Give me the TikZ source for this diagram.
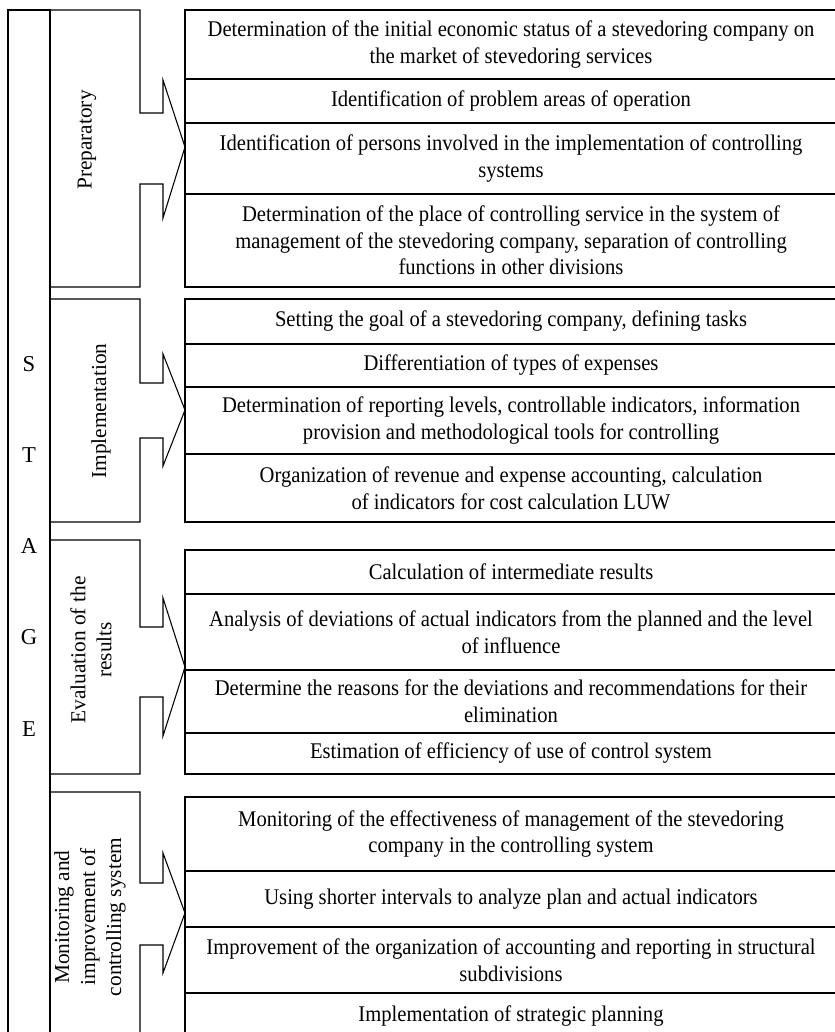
\documentclass[tikz,border=0pt]{standalone}
\usepackage{fontspec}
\setmainfont{Liberation Serif}
\newfontfamily\itemfont{Liberation Serif}[FakeStretch=0.92]
\usepackage{tikz}

\begin{document}
\begin{tikzpicture}[
    x=0.75pt, y=-0.75pt,
    line width=0.8pt,
    every node/.style={font=\fontsize{16}{19.5}\selectfont, inner sep=0pt},
    itembox/.style={draw, align=center, minimum width=652*0.75pt, minimum height=#1*0.75pt,
      font=\itemfont\fontsize{16.8}{20}\selectfont},
    stagelabel/.style={rotate=90, align=center},
    letter/.style={font=\fontsize{17}{20}\selectfont}
  ]
    \clip (0,0) rectangle (835,1032);
    % STAGE column
    \draw (8,1045) -- (8,10) -- (50,10) -- (50,1045);
    \node[letter] (s) at (29,364) {S};
    \node[letter] (t) at (29,455) {T};
    \node[letter] (a) at (29,546) {A};
    \node[letter] (g) at (29,637) {G};
    \node[letter] (e) at (29,729) {E};

    % Preparatory
    \draw (50,10) -- (140,10) -- (140,113) -- (163,113) -- (163,80) -- (185,147)
      -- (163,218) -- (163,184) -- (140,184) -- (140,287) -- (50,287) -- cycle;
    \node[stagelabel] (prep) at (87,140) {Preparatory};
    \node[itembox=69] (p1) at (511,44.5) {Determination of the initial economic status of a stevedoring company on\\the market of stevedoring services};
    \node[itembox=44] (p2) at (511,101) {Identification of problem areas of operation};
    \node[itembox=71] (p3) at (511,158.5) {Identification of persons involved in the implementation of controlling\\systems};
    \node[itembox=93] (p4) at (511,240.5) {Determination of the place of controlling service in the system of\\management of the stevedoring company, separation of controlling\\functions in other divisions};

    % Implementation
    \draw (50,299) -- (140,299) -- (140,383) -- (163,383) -- (163,354) -- (185,410)
      -- (163,466) -- (163,438) -- (140,438) -- (140,522) -- (50,522) -- cycle;
    \node[stagelabel] (impl) at (101,411) {Implementation};
    \node[itembox=45] (i1) at (511,321.5) {Setting the goal of a stevedoring company, defining tasks};
    \node[itembox=43] (i2) at (511,365.5) {Differentiation of types of expenses};
    \node[itembox=67] (i3) at (511,420.5) {Determination of reporting levels, controllable indicators, information\\provision and methodological tools for controlling};
    \node[itembox=68] (i4) at (511,488) {Organization of revenue and expense accounting, calculation\\of indicators for cost calculation LUW};

    % Evaluation of the results
    \draw (50,540) -- (140,540) -- (140,627) -- (163,627) -- (163,598) -- (185,667)
      -- (163,736) -- (163,697) -- (140,697) -- (140,774) -- (50,774) -- cycle;
    \node[stagelabel] (eval) at (91,650) {Evaluation of the\\results};
    \node[itembox=44] (e1) at (511,572) {Calculation of intermediate results};
    \node[itembox=76] (e2) at (511,632) {Analysis of deviations of actual indicators from the planned and the level\\of influence};
    \node[itembox=63] (e3) at (511,701.5) {Determine the reasons for the deviations and recommendations for their\\elimination};
    \node[itembox=41] (e4) at (511,753.5) {Estimation of efficiency of use of control system};

    % Monitoring and improvement
    \draw (50,1045) -- (50,792) -- (140,792) -- (140,883) -- (163,883) -- (163,853) -- (185,913)
      -- (163,973) -- (163,945) -- (140,945) -- (140,1045);
    \node[stagelabel] (moni) at (90,917) {Monitoring and\\improvement of\\controlling system};
    \node[itembox=74] (m1) at (511,834) {Monitoring of the effectiveness of management of the stevedoring\\company in the controlling system};
    \node[itembox=56] (m2) at (511,899) {Using shorter intervals to analyze plan and actual indicators};
    \node[itembox=66] (m3) at (511,960) {Improvement of the organization of accounting and reporting in structural\\subdivisions};
    \node[itembox=47] (m4) at (511,1016.5) {Implementation of strategic planning};
  \end{tikzpicture}
\end{document}
